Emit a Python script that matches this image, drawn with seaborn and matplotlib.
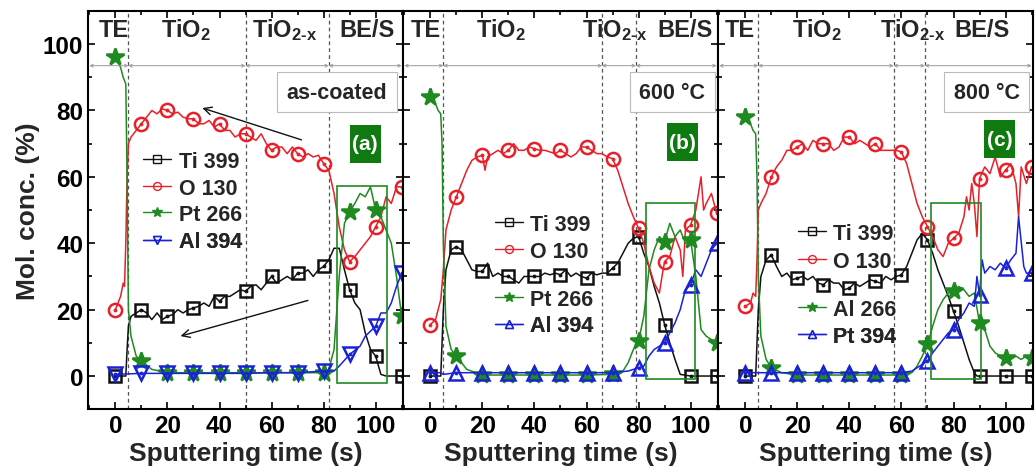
import matplotlib
matplotlib.use("Agg")
import matplotlib.pyplot as plt
import seaborn as sns
import numpy as np
from matplotlib.lines import Line2D
from matplotlib.patches import Rectangle

# ---------------- data ----------------
marker_t = [0, 10, 20, 30, 40, 50, 60, 70, 80, 90, 100, 110]

# panel (a) as-coated
a_ti_t = [0, 3, 4, 4.5, 5, 6, 8, 10, 12, 14, 16, 18, 20, 22, 24, 26, 28, 30, 32, 34, 36, 38, 40, 42, 44, 46, 48, 50,
          52, 54, 56, 58, 60, 62, 64, 66, 68, 70, 72, 74, 76, 78, 80, 82, 84, 86, 88, 90, 92, 94, 96, 98, 100, 102, 104, 110]
a_ti_v = [0, 0, 0, 8, 15, 18, 19, 20, 19, 17, 19, 17, 18, 18.5, 20, 19, 20, 20.5, 21, 22, 21, 24, 22.5, 24, 24, 25, 26, 25.5,
          27, 27.5, 26, 28, 30, 28, 29, 30, 29, 31, 31, 32, 30, 32, 33, 35, 38.5, 38.5, 32, 26, 22, 20, 13, 8, 6, 0.5, 0, 0]
a_o_t = [0, 2, 3, 3.5, 4, 4.5, 5, 6, 8, 10, 12, 14, 16, 18, 20, 22, 24, 26, 28, 30, 32, 34, 36, 38, 40, 42, 44, 46, 48, 50,
         52, 54, 56, 58, 60, 62, 64, 66, 68, 70, 72, 74, 76, 78, 80, 82, 84, 86, 88, 90, 92, 94, 96, 98, 100, 102, 104, 106, 108, 110]
a_o_v = [20, 24, 28, 27, 40, 60, 70, 72, 74, 76, 78, 80, 79, 80.5, 80, 79, 79.5, 78, 77.5, 77.5, 76, 76, 77, 75, 76, 74, 74, 72, 73, 73,
         72, 71, 73, 70, 68, 69, 69, 67, 69, 67, 66, 67, 66, 66.5, 64, 62, 55, 45, 38, 34.5, 36, 38, 40, 42, 45, 48, 54, 52, 57, 57]
a_pt_t = [0, 2, 3, 4, 4.5, 5, 6, 8, 10, 14, 20, 30, 40, 50, 60, 70, 80, 82, 84, 86, 88, 90, 92, 94, 96, 98, 100, 102, 104, 106, 108, 110]
a_pt_v = [96, 93, 90, 88, 60, 20, 12, 6, 4.5, 2, 1, 1, 1, 1, 1, 1, 1, 2, 8, 30, 46, 49.5, 52, 55, 54, 57, 50, 48, 44, 40, 30, 18]
a_al_t = [0, 10, 20, 30, 40, 50, 60, 70, 80, 84, 86, 90, 94, 96, 100, 102, 104, 106, 108, 110]
a_al_v = [0.5, 0.8, 0.8, 0.8, 0.8, 0.8, 1, 1, 1.5, 1.5, 3, 6.5, 9, 12, 15, 19, 19, 22, 27, 31]

# panel (b) 600 C
b_ti_t = [0, 4, 5, 6, 8, 10, 12, 14, 16, 18, 20, 22, 24, 26, 28, 30, 32, 34, 36, 38, 40, 42, 44, 46, 48, 50, 52, 54, 56, 58,
          60, 62, 64, 66, 68, 70, 72, 74, 76, 78, 80, 82, 84, 86, 88, 90, 92, 94, 96, 100, 110]
b_ti_v = [0, 0, 20, 32, 38, 39, 38, 35, 32, 31.5, 31.5, 34, 30, 31, 30, 30, 29, 28, 30, 30, 30, 30, 31, 30.5, 31, 30.5, 32, 30, 31, 30,
          29.5, 31, 30.5, 31, 31, 32.5, 34, 37, 40, 41.5, 42, 37, 33, 27, 22, 15.5, 10, 5, 0.5, 0, 0]
b_o_t = [0, 2, 3, 4, 5, 6, 8, 10, 12, 14, 16, 18, 20, 21, 22, 24, 26, 28, 30, 32, 34, 36, 38, 40, 42, 44, 46, 48, 50, 52, 54,
         56, 58, 60, 62, 64, 66, 68, 70, 72, 74, 76, 78, 80, 82, 84, 86, 88, 89, 90, 92, 94, 96, 97, 98, 100, 102, 104, 105, 106, 108, 110]
b_o_v = [15.5, 17, 20, 23, 32, 44, 50, 54, 58, 62, 65, 66, 66.5, 62, 66, 67, 68, 67, 68, 70, 68, 68, 69, 68.5, 68, 68, 67.5, 67, 68, 67, 66,
         67, 69, 69, 68, 67, 67, 66, 65.5, 62, 57, 52, 48, 44.5, 40, 33, 28, 25, 30, 34.5, 36, 42, 38, 30, 44, 45.5, 50, 60, 50, 52, 55, 49]
b_pt_t = [0, 2, 3, 4, 4.5, 5, 6, 8, 10, 14, 20, 30, 40, 50, 60, 70, 74, 76, 78, 80, 82, 84, 86, 88, 90, 92, 94, 96, 98, 100,
          102, 104, 106, 108, 110]
b_pt_v = [84, 82, 80, 79, 70, 40, 15, 8, 6, 2, 0.3, 0.3, 0.3, 0.3, 0.3, 0.5, 1.5, 4, 8, 10.5, 18, 32, 38, 42, 40.5, 46, 42, 44, 40, 41,
          30, 14, 12, 11, 10]
b_al_t = [0, 4, 5, 10, 20, 30, 40, 50, 60, 70, 76, 80, 82, 84, 86, 88, 90, 92, 94, 96, 98, 100, 102, 104, 106, 108, 110]
b_al_v = [1, 1, 0.5, 1, 1, 1, 1, 1, 1, 1, 1.5, 2.5, 3, 6, 8, 9, 10, 13, 16, 20, 26, 27.5, 32, 30, 34, 38, 40]

# panel (c) 800 C
c_ti_t = [0, 4, 5, 6, 8, 10, 12, 14, 16, 18, 20, 22, 24, 26, 28, 30, 32, 34, 36, 38, 40, 42, 44, 46, 48, 50, 52, 54, 56, 58,
          60, 62, 64, 66, 68, 70, 72, 74, 76, 78, 80, 82, 84, 86, 88, 89, 90, 100, 110]
c_ti_v = [0, 0, 20, 30, 35, 36.5, 33, 30, 31, 29, 29.5, 30, 29, 30, 28, 27.5, 29, 28, 28, 26, 26.5, 28, 27, 28, 29, 28.5, 28, 30, 29, 30,
          30.5, 33, 37, 41, 43, 41, 37, 32, 28, 24, 19.5, 15, 10, 5, 1, 0, 0, 0, 0]
c_o_t = [0, 2, 3, 4, 4.5, 5, 6, 8, 10, 12, 14, 16, 18, 20, 22, 24, 26, 28, 30, 32, 34, 36, 38, 40, 42, 44, 46, 48, 50, 52, 54,
         56, 58, 60, 62, 64, 66, 68, 70, 72, 74, 76, 78, 80, 82, 84, 85, 86, 87, 88, 89, 90, 92, 94, 96, 98, 100, 102, 104, 105, 106, 108, 110]
c_o_v = [21, 22, 25, 24, 35, 50, 52, 55, 60, 63, 65, 68, 68, 69, 70, 68, 71, 70, 70, 70, 68, 69, 72, 72, 70, 71, 70, 69, 70, 68, 68,
         68, 68, 67.5, 64, 58, 52, 48, 45, 42, 38, 36, 40, 41.5, 43, 48, 54, 50, 58, 52, 42, 59.5, 63, 61, 66, 60, 62, 64, 58, 48, 63, 58, 63]
c_al_t = [0, 2, 3, 4, 4.5, 5, 6, 8, 10, 14, 20, 30, 40, 50, 60, 64, 66, 68, 70, 72, 74, 76, 78, 80, 82, 84, 86, 88, 90, 92, 94,
          96, 98, 100, 102, 104, 106, 108, 110]
c_al_v = [78, 76, 74, 73, 60, 30, 12, 5, 2.5, 1, 0.3, 0.3, 0.3, 0.3, 0.3, 1, 3, 6, 9.5, 15, 20, 23, 25, 25.5, 27, 26, 24, 25, 16, 14, 9,
          7, 6, 5.5, 5, 6, 5, 6, 5.5]
c_pt_t = [0, 4, 10, 20, 30, 40, 50, 60, 64, 66, 68, 70, 72, 74, 76, 78, 80, 82, 84, 86, 88, 89, 90, 91, 92, 94, 96, 98, 100,
          102, 104, 105, 107, 108, 110]
c_pt_v = [1, 1, 1, 1, 1, 1, 1, 1, 1.5, 2.5, 3.5, 4.5, 7, 9, 11, 13, 14, 17, 19, 22, 21, 30, 24.5, 35, 31, 33, 32, 34, 32.5,
          35, 37, 48, 33, 31, 31]

labels_ac = ["Ti 399", "O 130", "Pt 266", "Al 394"]
labels_c = ["Ti 399", "O 130", "Al 266", "Pt 394"]
region_names = ["TE", r"$\mathbf{TiO_2}$", r"$\mathbf{TiO_{2\text{-}x}}$", "BE/S"]
conditions = ["as-coated", "600 °C", "800 °C"]
tags = ["(a)", "(b)", "(c)"]
boundaries = [[5, 50, 82], [5, 66, 79], [5, 57, 69]]
region_x = [[-0.7, 27, 65, 96.5], [-1.7, 27.3, 71, 98], [-2, 27.5, 64.5, 91]]
green_boxes = [(85.3, 104.3, -2, 57.4), (82.7, 101.5, -1, 52.2), (71.4, 90.5, -1, 52.2)]
cond_xy = [(85, 85.5), (93, 85.5), (92.7, 85.5)]
tag_xy = [(96, 70), (97, 70.5), (97.8, 71.3)]
legend_y = [[0.623, 0.555, 0.49, 0.42], [0.465, 0.397, 0.276, 0.209], [0.442, 0.372, 0.251, 0.183]]
legend_x = [0.175, 0.292, 0.254]

# ---------------- style ----------------
sns.set_theme(style="ticks")
plt.rcParams["font.family"] = ["Liberation Sans", "DejaVu Sans"]
plt.rcParams["font.weight"] = "bold"
plt.rcParams["axes.labelweight"] = "bold"
plt.rcParams["mathtext.fontset"] = "custom"
plt.rcParams["mathtext.rm"] = "Liberation Sans"
plt.rcParams["mathtext.bf"] = "Liberation Sans:bold"

BLACK = "#111111"
RED = "#e8202a"
GREEN = "#1f8a1f"
BLUE = "#1a22d8"
BOXGREEN = "#0f7a10"

fig, axes = plt.subplots(1, 3, figsize=(10.36, 4.77), dpi=100, sharey=True)
fig.subplots_adjust(left=0.085, right=0.997, bottom=0.140, top=0.975, wspace=0)

panels = [
    [(a_ti_t, a_ti_v), (a_o_t, a_o_v), (a_pt_t, a_pt_v), (a_al_t, a_al_v)],
    [(b_ti_t, b_ti_v), (b_o_t, b_o_v), (b_pt_t, b_pt_v), (b_al_t, b_al_v)],
    [(c_ti_t, c_ti_v), (c_o_t, c_o_v), (c_al_t, c_al_v), (c_pt_t, c_pt_v)],
]
styles = [
    dict(color=BLACK, marker="s", ms=8.5, filled=False, dot=True),
    dict(color=RED, marker="o", ms=9.5, filled=False, dot=True),
    dict(color=GREEN, marker="*", ms=13, filled=True, dot=False),
    None,
]


def pick_markers(t, v):
    mt, mv = [], []
    for ti, vi in zip(t, v):
        if ti in marker_t:
            mt.append(ti)
            mv.append(vi)
    return mt, mv


for p, ax in enumerate(axes):
    tri = "v" if p == 0 else "^"
    sty = styles[:3] + [dict(color=BLUE, marker=tri, ms=10, filled=False, dot=True)]
    labels = labels_c if p == 2 else labels_ac
    handles = []
    for (t, v), s in zip(panels[p], sty):
        sns.lineplot(x=t, y=v, ax=ax, color=s["color"], lw=1.1, estimator=None,
                     sort=False, errorbar=None, legend=False)
        mt, mv = pick_markers(t, v)
        fc = s["color"] if s["filled"] else "none"
        sns.lineplot(x=mt, y=mv, ax=ax, linestyle="", marker=s["marker"], markersize=s["ms"],
                     markerfacecolor=fc, markeredgecolor=s["color"], markeredgewidth=1.8,
                     estimator=None, errorbar=None, legend=False, color=s["color"])
        if s["dot"]:
            sns.lineplot(x=mt, y=mv, ax=ax, linestyle="", marker="o", markersize=2,
                         markerfacecolor=s["color"], markeredgecolor=s["color"],
                         estimator=None, errorbar=None, legend=False, color=s["color"])
        h1 = Line2D([], [], color=s["color"], lw=1.0, marker=s["marker"], markersize=s["ms"] * 0.6,
                    markerfacecolor=fc, markeredgecolor=s["color"], markeredgewidth=1.0)
        handles.append(h1)

    # legend entries placed individually
    for h, lab, yy in zip(handles, labels, legend_y[p]):
        lg = ax.legend([h], [lab], loc="center left", bbox_to_anchor=(legend_x[p], yy),
                       frameon=False, fontsize=15.5, handlelength=1.3, handletextpad=0.35,
                       borderpad=0, borderaxespad=0)
        ax.add_artist(lg)

    # boundaries
    for b in boundaries[p]:
        ax.axvline(b, color="#555555", lw=0.9, ls=(0, (3, 2.5)), zorder=0)
    edges = [-10] + boundaries[p] + [110]
    for x0, x1 in zip(edges[:-1], edges[1:]):
        ax.annotate("", xy=(x1, 93.5), xytext=(x0, 93.5),
                    arrowprops=dict(arrowstyle="<->", color="#999999", lw=0.7,
                                    shrinkA=0, shrinkB=0, mutation_scale=5))
    for name, xx in zip(region_names, region_x[p]):
        ax.text(xx, 104.5, name, ha="center", va="center", fontsize=17, fontweight="bold")

    x0, x1, y0, y1 = green_boxes[p]
    ax.add_patch(Rectangle((x0, y0), x1 - x0, y1 - y0, fill=False, edgecolor=GREEN, lw=1.2, zorder=5))

    ax.text(*cond_xy[p], conditions[p], ha="center", va="center", fontsize=15.5, fontweight="bold",
            bbox=dict(boxstyle="square,pad=0.45", facecolor="white", edgecolor="#bbbbbb", lw=0.8), zorder=6)
    tx, ty = tag_xy[p]
    ax.add_patch(Rectangle((tx - 5.9, ty - 5.7), 11.8, 11.4, facecolor=BOXGREEN, edgecolor="none", zorder=6))
    ax.text(tx, ty, tags[p], ha="center", va="center", fontsize=15, fontweight="bold", color="white", zorder=7)

    ax.set_xlim(-10.5, 110.5)
    ax.set_ylim(-10, 110)
    ax.set_xticks([0, 20, 40, 60, 80, 100])
    ax.set_xticks(np.arange(-10, 111, 10), minor=True)
    ax.set_yticks([0, 20, 40, 60, 80, 100])
    ax.set_yticks(np.arange(-10, 111, 10), minor=True)
    ax.tick_params(which="both", direction="in", top=True, right=True, width=1.2, colors="black",
                   labelsize=17.5)
    ax.tick_params(which="major", length=5)
    ax.tick_params(which="minor", length=3)
    for lab in ax.get_xticklabels() + ax.get_yticklabels():
        lab.set_fontweight("bold")
    for sp in ax.spines.values():
        sp.set_linewidth(1.5)
        sp.set_color("black")
    ax.set_xlabel("Sputtering time (s)", fontsize=19, fontweight="bold", labelpad=3)
    if p > 0:
        ax.tick_params(labelleft=False)

axes[0].set_ylabel("Mol. conc. (%)", fontsize=19, fontweight="bold", labelpad=2)

axes[0].annotate("", xy=(32.4, 81), xytext=(72.5, 70.9),
                 arrowprops=dict(arrowstyle="->", color=BLACK, lw=1.0, mutation_scale=14))
axes[0].annotate("", xy=(24, 11.8), xytext=(75, 23),
                 arrowprops=dict(arrowstyle="->", color=BLACK, lw=1.0, mutation_scale=14))

fig.savefig("out.png", dpi=100)
